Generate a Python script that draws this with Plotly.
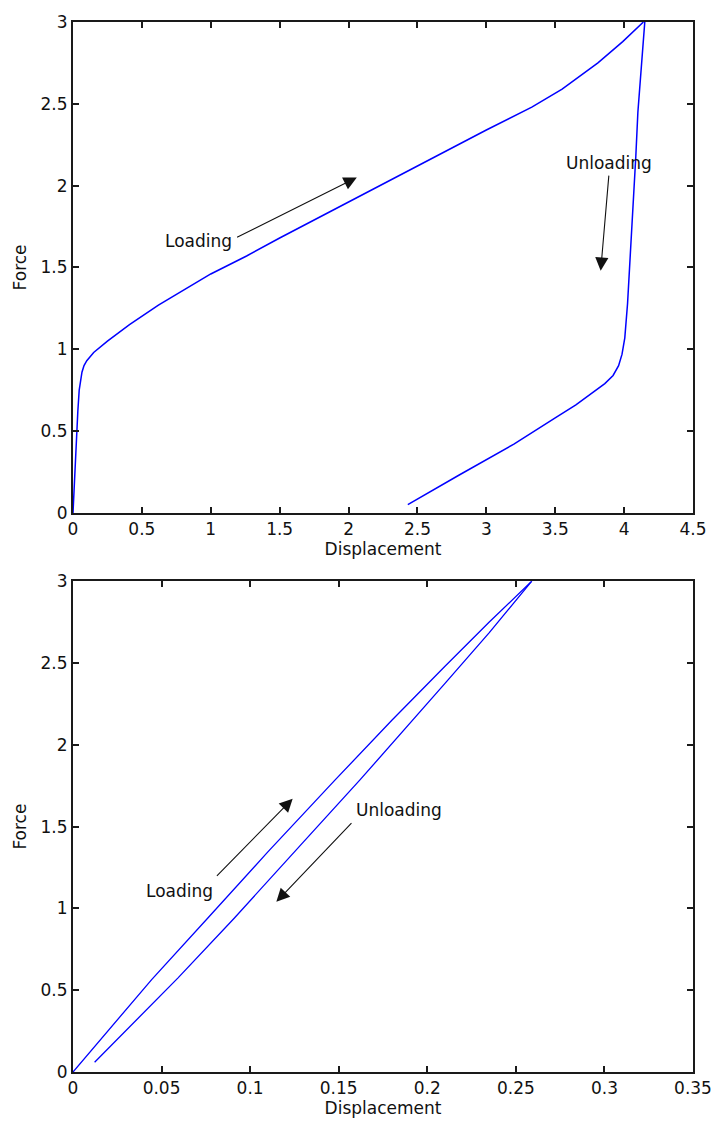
import plotly.graph_objects as go

# ---- Top panel data (Displacement vs Force) ----
top_load_x = [0, 0.005, 0.015, 0.025, 0.035, 0.045, 0.055, 0.065, 0.08, 0.1, 0.15, 0.25, 0.41,
              0.62, 1.0, 1.26, 1.5, 2.0, 2.19, 2.5, 3.0, 3.33, 3.55, 3.81, 3.99, 4.14]
top_load_y = [0, 0.1, 0.25, 0.45, 0.62, 0.75, 0.82, 0.86, 0.9, 0.93, 0.98, 1.05, 1.15,
              1.27, 1.46, 1.57, 1.68, 1.9, 1.98, 2.12, 2.34, 2.48, 2.59, 2.75, 2.88, 3.0]

top_unload_x = [4.15, 4.125, 4.10, 4.085, 4.065, 4.045, 4.025, 4.005, 3.985, 3.96, 3.92, 3.86,
                3.78, 3.65, 3.5, 3.2, 2.8, 2.43]
top_unload_y = [3.0, 2.72, 2.45, 2.18, 1.875, 1.55, 1.28, 1.07, 0.97, 0.9, 0.84, 0.79,
                0.74, 0.66, 0.58, 0.42, 0.23, 0.05]

# ---- Bottom panel data ----
bot_load_x = [0, 0.03, 0.0444, 0.076, 0.11, 0.148, 0.18, 0.21, 0.235, 0.259]
bot_load_y = [0, 0.38, 0.565, 0.94, 1.345, 1.785, 2.15, 2.48, 2.75, 3.0]

bot_unload_x = [0.259, 0.235, 0.21, 0.185, 0.162, 0.13, 0.091, 0.0593, 0.035, 0.0122]
bot_unload_y = [3.0, 2.685, 2.375, 2.065, 1.785, 1.405, 0.94, 0.575, 0.31, 0.06]

x_label = "Displacement"
y_label = "Force"

blue = "#0000ff"
fig = go.Figure()
fig.add_trace(go.Scatter(x=top_load_x, y=top_load_y, mode="lines",
                         line=dict(color=blue, width=1.5), xaxis="x", yaxis="y"))
fig.add_trace(go.Scatter(x=top_unload_x, y=top_unload_y, mode="lines",
                         line=dict(color=blue, width=1.5), xaxis="x", yaxis="y"))
fig.add_trace(go.Scatter(x=bot_load_x, y=bot_load_y, mode="lines",
                         line=dict(color=blue, width=1.3), xaxis="x2", yaxis="y2"))
fig.add_trace(go.Scatter(x=bot_unload_x, y=bot_unload_y, mode="lines",
                         line=dict(color=blue, width=1.3), xaxis="x2", yaxis="y2"))

font_family = "DejaVu Sans"
ax_common = dict(showline=True, linecolor="#1a1a1a", linewidth=2, mirror="ticks",
                 ticks="inside", ticklen=6, tickwidth=1.5, tickcolor="#1a1a1a",
                 showgrid=False, zeroline=False,
                 tickfont=dict(family=font_family, size=17, color="#111"))

tfont = dict(family=font_family, size=17, color="#111")
fig.update_layout(
    width=724, height=1127,
    margin=dict(l=73, r=20, t=14, b=52),
    plot_bgcolor="white", paper_bgcolor="white",
    showlegend=False,
    xaxis=dict(domain=[0, 1], anchor="y", range=[0, 4.5], dtick=0.5,
               title=dict(text=x_label, font=tfont, standoff=5), **ax_common),
    yaxis=dict(domain=[0.5325, 1], anchor="x", range=[0, 3], dtick=0.5,
               title=dict(text=y_label, font=tfont, standoff=10), **ax_common),
    xaxis2=dict(domain=[0, 1], anchor="y2", range=[0, 0.35], dtick=0.05,
                title=dict(text=x_label, font=tfont, standoff=5), **ax_common),
    yaxis2=dict(domain=[0, 0.4675], anchor="x2", range=[0, 3], dtick=0.5,
                title=dict(text=y_label, font=tfont, standoff=10), **ax_common),
)

afont = dict(family=font_family, size=17, color="#111")

def arrow(xref, yref, tail, tip):
    fig.add_annotation(x=tip[0], y=tip[1], ax=tail[0], ay=tail[1], xref=xref, yref=yref,
                       axref=xref, ayref=yref, text="", showarrow=True, arrowhead=2,
                       arrowsize=2.4, arrowwidth=1.1, arrowcolor="#111", standoff=0, startstandoff=0)

def label(xref, yref, pos, text, xanchor):
    fig.add_annotation(x=pos[0], y=pos[1], xref=xref, yref=yref, text=text, showarrow=False,
                       xanchor=xanchor, yanchor="middle", font=afont)

# top panel annotations
arrow("x", "y", (1.18, 1.68), (2.06, 2.05))
label("x", "y", (1.17, 1.66), "Loading", "right")
arrow("x", "y", (3.89, 2.07), (3.83, 1.48))
label("x", "y", (3.89, 2.14), "Unloading", "center")

# bottom panel annotations
arrow("x2", "y2", (0.0804, 1.19), (0.124, 1.67))
label("x2", "y2", (0.0799, 1.107), "Loading", "right")
arrow("x2", "y2", (0.158, 1.53), (0.1148, 1.04))
label("x2", "y2", (0.1586, 1.60), "Unloading", "left")

fig.write_html("out.html")
